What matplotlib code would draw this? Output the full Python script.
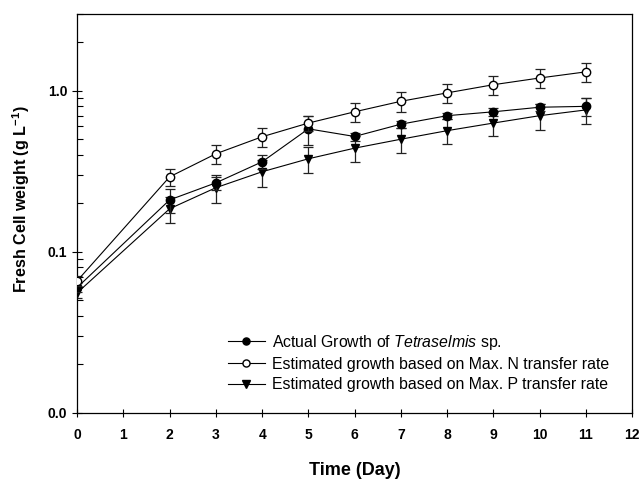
import numpy as np
import matplotlib.pyplot as plt
from matplotlib.ticker import LogLocator, NullFormatter

plt.rcParams['font.family'] = ['Liberation Sans', 'DejaVu Sans']
plt.rcParams['mathtext.fontset'] = 'custom'
plt.rcParams['mathtext.rm'] = 'Liberation Sans'
plt.rcParams['mathtext.it'] = 'Liberation Sans:italic'
plt.rcParams['mathtext.bf'] = 'Liberation Sans:bold'

days = [0, 2, 3, 4, 5, 6, 7, 8, 9, 10, 11]
actual = [0.060, 0.21, 0.268, 0.362, 0.58, 0.52, 0.62, 0.70, 0.74, 0.79, 0.80]
actual_err = [0.004, 0.035, 0.025, 0.035, 0.12, 0.03, 0.03, 0.03, 0.04, 0.04, 0.10]
est_n = [0.066, 0.292, 0.406, 0.518, 0.63, 0.74, 0.86, 0.97, 1.09, 1.20, 1.31]
est_n_err = [0.005, 0.035, 0.055, 0.07, 0.07, 0.10, 0.12, 0.13, 0.15, 0.16, 0.18]
est_p = [0.0556, 0.185, 0.25, 0.314, 0.378, 0.44, 0.50, 0.565, 0.63, 0.70, 0.76]
est_p_err = [0.004, 0.035, 0.05, 0.06, 0.07, 0.08, 0.09, 0.10, 0.11, 0.13, 0.14]

labels = [r'Actual Growth of $\mathit{Tetraselmis}$ sp.',
          'Estimated growth based on Max. N transfer rate',
          'Estimated growth based on Max. P transfer rate']

fig = plt.figure(figsize=(6.43, 4.8), dpi=100)
ax = fig.add_axes([0.12, 0.14, 0.863, 0.831])

kw = dict(color='black', lw=0.8, ms=6, capsize=3.5, elinewidth=0.9, capthick=0.9, ecolor='#222222')
p = ax.errorbar(days, est_p, yerr=est_p_err, fmt='-v', mfc='black', mec='black', zorder=2, **kw)
a = ax.errorbar(days, actual, yerr=actual_err, fmt='-o', mfc='black', mec='black', zorder=3, **kw)
n = ax.errorbar(days, est_n, yerr=est_n_err, fmt='-o', mfc='white', mec='black', zorder=4, **kw)

ax.set_yscale('log')
ax.set_xlim(0, 12)
ax.set_ylim(0.01, 3.0)
ax.set_xticks(range(13))
ax.set_xticklabels([str(i) for i in range(13)], fontweight='bold', fontsize=10)
ax.set_yticks([0.01, 0.1, 1.0])
ax.set_yticklabels(['0.0', '0.1', '1.0'], fontweight='bold', fontsize=10)
ax.yaxis.set_minor_locator(LogLocator(base=10, subs=np.arange(2, 10)))
ax.yaxis.set_minor_formatter(NullFormatter())
ax.tick_params(axis='x', direction='inout', length=6, width=0.8, pad=8)
ax.tick_params(axis='y', which='major', direction='inout', length=7, width=0.8)
ax.tick_params(axis='y', which='minor', direction='in', length=4, width=0.8)
for s in ax.spines.values():
    s.set_linewidth(0.9)

ax.set_xlabel('Time (Day)', fontweight='bold', fontsize=13, labelpad=14)
ax.set_ylabel(r'Fresh Cell weight (g L$^{\mathbf{-1}}$)', fontweight='bold', fontsize=11.6)
ax.yaxis.set_label_coords(-0.081, 0.536)

leg = ax.legend([a.lines[0], n.lines[0], p.lines[0]], labels, loc='lower left',
                bbox_to_anchor=(0.272, 0.052), frameon=False, fontsize=11.4,
                handlelength=2.3, handletextpad=0.5, labelspacing=0.33,
                borderaxespad=0, borderpad=0, markerscale=0.85)

fig.savefig('out.png', dpi=100)
